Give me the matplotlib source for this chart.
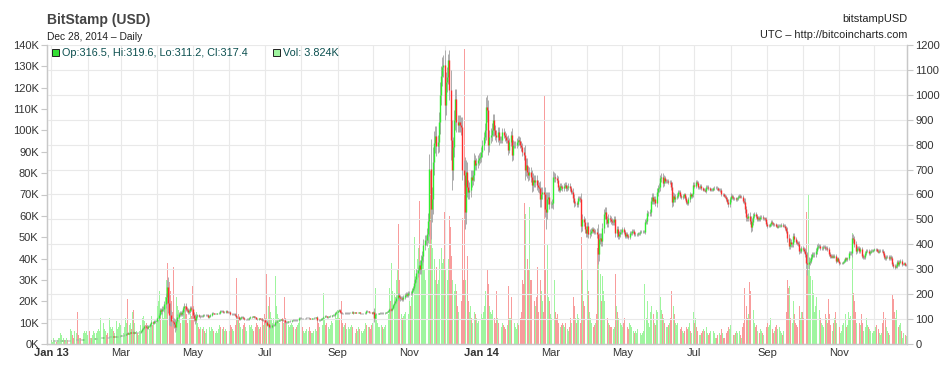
import numpy as np
import pandas as pd
import matplotlib
matplotlib.use('Agg')
import matplotlib.pyplot as plt
from matplotlib.patches import Rectangle

# Bitstamp BTC/USD daily closes, one line per month
close_2013 = [
    13.3, 13.3, 13.4, 13.5, 13.4, 13.4, 13.6, 13.8, 14.0, 14.3, 14.3, 14.2, 14.3, 14.5, 14.3, 14.6, 15.8, 16.0, 15.7, 15.6, 16.8, 17.5, 17.2, 17.0, 17.4, 17.3, 17.6, 18.3, 19.4, 19.7, 20.4,
    20.5, 19.6, 20.6, 20.4, 20.6, 21.5, 22.2, 22.6, 23.6, 24.2, 24.5, 25.2, 24.6, 26.9, 27.2, 27.2, 26.8, 26.6, 29.4, 29.8, 29.8, 30.3, 29.6, 29.8, 30.4, 31.0, 31.0, 33.4,
    34.5, 34.3, 34.5, 36.2, 40.3, 44.0, 42.0, 44.0, 46.9, 46.0, 48.4, 44.2, 47.0, 47.0, 46.9, 47.0, 47.4, 51.3, 59.0, 64.0, 70.9, 69.9, 64.6, 71.5, 73.6, 78.4, 88.9, 86.2, 90.5, 92.2, 93.0,
    104, 117, 135, 132, 142, 142, 162, 188, 230, 165, 118, 117, 91, 90, 82, 68, 93, 110, 119, 126, 119, 127, 143, 154, 141, 137, 128, 134, 144, 139,
    116, 105, 97, 112, 115, 112, 111, 113, 112, 117, 115, 115, 117, 110, 114, 117, 123, 123, 122, 122, 122, 123, 126, 133, 131, 133, 128, 129, 132, 128, 128,
    129, 122, 121, 121, 121, 118, 108, 108, 100, 105, 108, 108, 103, 99, 99, 100, 101, 106, 108, 110, 111, 108, 107, 102, 101, 103, 102, 101, 96, 97,
    88, 89, 78, 80, 68, 70, 75, 76, 76, 88, 88, 94, 97, 98, 99, 97, 97, 90, 88, 89, 91, 91, 92, 95, 96, 95, 96, 95, 98, 104, 106,
    104, 103, 103, 104, 105, 106, 106, 104, 102, 103, 104, 105, 106, 107, 98, 97, 98, 101, 103, 110, 112, 111, 108, 110, 111, 112, 115, 117, 116, 124, 128,
    134, 136, 127, 124, 123, 123, 126, 124, 124, 124, 125, 126, 128, 125, 125, 128, 126, 126, 127, 124, 124, 124, 124, 125, 133, 131, 131, 128, 127, 124,
    128, 105, 120, 122, 122, 123, 124, 125, 124, 125, 126, 127, 130, 133, 140, 138, 145, 155, 165, 172, 183, 195, 188, 184, 186, 182, 188, 195, 201, 198, 204,
    206, 205, 215, 226, 245, 262, 284, 295, 318, 300, 336, 355, 396, 417, 417, 442, 492, 703, 540, 582, 730, 805, 834, 795, 810, 892, 1000, 1075, 1110, 1120,
    960, 1050, 1070, 1140, 1020, 820, 700, 790, 900, 985, 890, 880, 890, 880, 870, 700, 680, 530, 690, 630, 610, 620, 670, 660, 680, 740, 720, 725, 740, 745, 750,
]
close_2014 = [
    770, 800, 830, 860, 950, 940, 800, 830, 840, 860, 900, 860, 840, 830, 850, 820, 820, 820, 850, 840, 830, 820, 820, 780, 810, 840, 760, 800, 800, 800, 810,
    820, 815, 800, 790, 770, 760, 700, 720, 690, 680, 690, 670, 640, 660, 650, 660, 640, 630, 625, 580, 600, 610, 600, 540, 530, 580, 590, 560,
    560, 565, 670, 670, 665, 660, 630, 620, 635, 630, 625, 635, 640, 625, 630, 635, 625, 610, 610, 585, 565, 565, 560, 585, 585, 580, 475, 500, 490, 460, 445,
    475, 440, 445, 455, 460, 455, 450, 450, 440, 360, 420, 425, 415, 465, 520, 530, 500, 485, 505, 500, 495, 490, 490, 500, 445, 460, 435, 440, 450, 450,
    460, 450, 435, 440, 435, 430, 445, 445, 455, 455, 440, 440, 440, 445, 445, 450, 450, 450, 450, 490, 495, 525, 525, 530, 575, 590, 575, 580, 565, 610, 625,
    630, 665, 670, 645, 665, 655, 655, 655, 650, 650, 630, 570, 595, 580, 590, 595, 610, 610, 595, 590, 595, 600, 585, 570, 565, 580, 600, 595, 600, 640,
    635, 650, 645, 630, 630, 635, 625, 620, 620, 615, 630, 632, 625, 620, 620, 620, 625, 628, 628, 625, 620, 620, 618, 600, 600, 595, 590, 580, 570, 560, 580,
    595, 590, 585, 585, 580, 585, 590, 595, 590, 590, 575, 570, 540, 510, 505, 515, 495, 470, 490, 515, 520, 515, 500, 505, 500, 510, 510, 505, 505, 500, 480,
    475, 475, 480, 490, 485, 480, 480, 475, 470, 475, 475, 475, 478, 475, 475, 465, 455, 425, 395, 410, 400, 400, 435, 420, 410, 405, 400, 375, 375, 385,
    380, 375, 360, 325, 320, 330, 335, 350, 360, 360, 360, 375, 390, 395, 395, 385, 385, 390, 390, 385, 385, 380, 360, 355, 350, 355, 350, 355, 335, 345, 335,
    325, 325, 325, 330, 335, 345, 340, 345, 365, 365, 365, 425, 420, 400, 375, 385, 385, 375, 380, 355, 350, 350, 365, 375, 375, 365, 370, 375, 375, 378,
    380, 380, 375, 370, 375, 375, 375, 365, 350, 345, 350, 350, 345, 350, 345, 320, 315, 310, 315, 330, 320, 330, 335, 320, 320, 325, 316.5, 317.4,
]
first_open = 13.2
last_high = 319.6
last_low = 311.2

# high/low reach beyond the candle body, USD
wick_2013 = [
    1, 1, 1, 1, 1, 1, 1, 1, 1, 1, 1, 1, 1, 1, 1, 1, 1, 1, 1, 1, 1, 1, 1, 1, 1, 1, 1, 1, 1, 1, 1,
    1, 1, 1, 1, 1, 1, 1, 1, 1, 1, 1, 1, 1, 1, 1, 1, 1, 1, 1, 1, 1, 1, 1, 1, 1, 1, 1, 1,
    1, 1, 1, 2, 2, 3, 3, 2, 2, 2, 3, 4, 2, 2, 2, 2, 2, 3, 4, 4, 4, 4, 5, 4, 4, 4, 5, 5, 5, 5, 5,
    6, 8, 10, 10, 10, 10, 12, 16, 25, 40, 40, 45, 20, 18, 16, 18, 12, 10, 10, 8, 8, 8, 10, 10, 10, 8, 8, 8, 8, 8,
    10, 12, 15, 8, 6, 5, 5, 4, 4, 4, 4, 4, 4, 5, 4, 4, 4, 4, 3, 3, 3, 3, 3, 4, 4, 4, 4, 3, 3, 3, 3,
    3, 4, 3, 3, 3, 4, 5, 4, 5, 4, 3, 3, 4, 4, 3, 3, 3, 3, 3, 3, 3, 3, 3, 3, 3, 3, 3, 3, 4, 4,
    5, 5, 6, 5, 6, 5, 4, 4, 4, 5, 4, 4, 3, 3, 3, 3, 3, 4, 4, 3, 3, 3, 3, 3, 3, 3, 3, 3, 3, 3, 3,
    2, 2, 2, 2, 2, 2, 2, 2, 2, 2, 2, 2, 2, 2, 4, 3, 3, 3, 3, 3, 3, 3, 3, 3, 3, 3, 3, 3, 3, 3, 3,
    3, 3, 4, 3, 3, 3, 3, 3, 3, 3, 2, 2, 3, 3, 2, 2, 2, 2, 2, 2, 2, 2, 2, 2, 3, 3, 2, 2, 2, 2,
    3, 15, 6, 4, 3, 3, 3, 3, 3, 3, 3, 3, 3, 3, 5, 5, 5, 6, 6, 6, 8, 8, 10, 10, 8, 8, 8, 8, 8, 8, 8,
    8, 8, 8, 8, 10, 12, 15, 15, 15, 20, 20, 20, 25, 20, 20, 25, 35, 60, 120, 50, 60, 50, 40, 40, 30, 40, 50, 40, 40, 40,
    60, 40, 40, 25, 40, 80, 80, 40, 40, 40, 40, 30, 30, 30, 30, 40, 40, 70, 50, 40, 30, 30, 30, 30, 20, 25, 20, 20, 20, 20, 20,
]
wick_2014 = [
    20, 20, 20, 25, 40, 50, 40, 30, 25, 25, 25, 25, 20, 20, 20, 20, 15, 15, 15, 15, 15, 15, 15, 20, 15, 15, 25, 20, 15, 15, 15,
    15, 15, 15, 15, 15, 20, 40, 25, 25, 25, 20, 20, 30, 25, 20, 20, 20, 20, 20, 30, 30, 20, 20, 30, 70, 30, 20, 20,
    15, 15, 25, 20, 15, 15, 15, 10, 10, 10, 10, 10, 10, 10, 10, 10, 10, 10, 10, 15, 15, 10, 10, 10, 10, 10, 25, 20, 15, 15, 15,
    15, 15, 15, 12, 10, 10, 10, 10, 15, 40, 25, 20, 20, 20, 20, 20, 20, 15, 15, 12, 12, 12, 12, 12, 15, 15, 15, 12, 10, 10,
    10, 10, 8, 8, 8, 8, 8, 8, 8, 8, 8, 8, 6, 6, 6, 6, 6, 6, 6, 10, 10, 12, 10, 10, 15, 15, 15, 12, 12, 15, 15,
    15, 15, 15, 15, 12, 10, 8, 8, 8, 8, 10, 20, 15, 12, 10, 10, 10, 8, 8, 8, 8, 8, 8, 10, 8, 8, 10, 8, 8, 10,
    10, 10, 8, 8, 6, 6, 6, 6, 6, 6, 8, 6, 6, 6, 6, 6, 6, 6, 6, 6, 6, 6, 6, 8, 6, 6, 6, 8, 8, 10, 10,
    10, 8, 6, 6, 6, 6, 6, 6, 6, 6, 8, 10, 15, 15, 12, 12, 15, 20, 15, 12, 10, 10, 8, 8, 8, 8, 8, 6, 6, 6, 8,
    8, 6, 6, 8, 6, 6, 6, 6, 6, 6, 6, 6, 6, 6, 6, 8, 10, 15, 15, 15, 10, 10, 12, 10, 8, 8, 8, 12, 10, 8,
    8, 8, 10, 20, 45, 20, 12, 10, 10, 10, 10, 10, 12, 10, 8, 8, 8, 6, 6, 6, 8, 8, 8, 8, 6, 6, 6, 6, 8, 6, 6,
    6, 5, 5, 5, 6, 6, 6, 6, 8, 8, 8, 15, 15, 12, 12, 8, 8, 8, 8, 8, 8, 8, 8, 8, 6, 6, 6, 6, 5, 5,
    5, 5, 5, 5, 5, 5, 5, 6, 8, 6, 6, 6, 6, 6, 6, 8, 8, 8, 6, 8, 6, 6, 6, 6, 4, 4, 4, 4,
]

# daily volume, thousand BTC
vol_2013 = [
    2, 1, 3, 2, 1, 2, 3, 3, 5, 4, 3, 2, 2, 3, 2, 4, 7, 6, 4, 3, 6, 5, 15, 4, 3, 3, 4, 5, 6, 5, 6,
    4, 6, 3, 3, 4, 6, 5, 5, 6, 7, 6, 12, 5, 10, 7, 6, 4, 5, 12, 8, 7, 8, 6, 5, 11, 7, 8, 10,
    9, 6, 5, 8, 12, 10, 21, 9, 10, 7, 15, 16, 10, 6, 5, 4, 6, 9, 12, 13, 11, 9, 10, 9, 7, 8, 13, 9, 10, 12, 10,
    18, 20, 25, 15, 14, 12, 16, 22, 30, 38, 29, 25, 20, 15, 36, 28, 22, 18, 16, 14, 10, 12, 15, 16, 18, 14, 10, 12, 14, 13,
    27, 18, 20, 15, 10, 8, 7, 8, 7, 8, 6, 5, 7, 9, 8, 6, 8, 7, 6, 5, 6, 5, 7, 9, 8, 7, 8, 6, 7, 6, 5,
    6, 9, 8, 7, 6, 9, 31, 12, 14, 10, 8, 7, 9, 10, 8, 6, 7, 9, 8, 9, 7, 6, 8, 10, 9, 8, 7, 8, 12, 9,
    14, 12, 33, 18, 22, 15, 12, 10, 12, 32, 18, 14, 12, 10, 9, 12, 10, 22, 12, 10, 9, 8, 9, 10, 9, 8, 7, 8, 9, 10, 12,
    10, 8, 6, 5, 6, 7, 6, 8, 6, 5, 5, 6, 7, 6, 12, 10, 8, 7, 9, 24, 12, 9, 10, 8, 7, 9, 11, 10, 8, 14, 12,
    16, 14, 12, 20, 10, 8, 9, 10, 7, 8, 7, 8, 9, 8, 6, 5, 7, 6, 8, 7, 6, 5, 6, 7, 10, 9, 8, 8, 7, 9,
    10, 61, 26, 14, 10, 8, 8, 9, 8, 7, 8, 9, 12, 14, 26, 20, 38, 25, 24, 22, 30, 35, 56, 30, 14, 12, 13, 14, 15, 16, 14,
    20, 18, 22, 25, 50, 30, 35, 40, 45, 67, 40, 38, 42, 35, 30, 32, 45, 60, 81, 55, 45, 40, 30, 36, 28, 30, 40, 45, 38, 40,
    62, 35, 30, 40, 60, 55, 41, 30, 25, 28, 25, 18, 15, 12, 20, 59, 30, 138, 30, 41, 20, 15, 18, 12, 10, 15, 14, 12, 10, 11, 12,
]
vol_2014 = [
    14, 12, 15, 18, 25, 35, 28, 18, 15, 14, 16, 12, 10, 25, 12, 10, 9, 8, 10, 9, 8, 7, 9, 27, 12, 12, 22, 14, 10, 8, 7,
    10, 9, 12, 15, 30, 28, 66, 61, 40, 35, 64, 30, 30, 25, 20, 18, 22, 36, 15, 30, 25, 20, 15, 116, 35, 47, 22, 20,
    14, 12, 61, 30, 15, 12, 14, 10, 8, 9, 10, 9, 8, 10, 7, 6, 8, 12, 10, 22, 18, 12, 10, 14, 12, 10, 50, 35, 20, 18, 34,
    30, 25, 15, 12, 10, 8, 9, 10, 14, 45, 40, 33, 20, 32, 25, 20, 18, 12, 10, 9, 8, 8, 7, 8, 33, 18, 15, 12, 10, 9,
    8, 10, 12, 9, 8, 7, 10, 9, 8, 6, 5, 6, 5, 7, 6, 5, 4, 5, 6, 28, 12, 20, 10, 8, 15, 18, 14, 10, 9, 16, 15,
    24, 22, 16, 14, 12, 10, 8, 8, 9, 10, 12, 25, 18, 14, 10, 9, 10, 8, 7, 8, 6, 5, 6, 8, 7, 8, 10, 6, 5, 15,
    10, 12, 8, 6, 4, 4, 5, 6, 7, 6, 8, 5, 4, 5, 6, 5, 6, 5, 3, 3, 4, 5, 4, 7, 5, 3, 3, 5, 6, 8, 7,
    9, 5, 4, 4, 5, 6, 5, 6, 4, 3, 8, 10, 26, 18, 12, 14, 29, 25, 15, 16, 10, 8, 9, 6, 5, 7, 6, 5, 4, 6, 8,
    10, 8, 9, 12, 7, 5, 6, 8, 9, 7, 8, 6, 5, 4, 6, 10, 15, 30, 26, 27, 12, 10, 20, 14, 10, 9, 8, 18, 12, 15,
    15, 12, 20, 62, 35, 70, 35, 32, 30, 24, 15, 18, 22, 20, 16, 12, 10, 9, 8, 14, 12, 10, 21, 14, 9, 6, 10, 12, 15, 10, 12,
    8, 5, 6, 9, 10, 14, 8, 9, 15, 12, 13, 52, 24, 20, 15, 10, 12, 10, 9, 14, 10, 6, 8, 12, 9, 8, 7, 6, 5, 6,
    6, 8, 9, 7, 5, 4, 5, 10, 15, 12, 8, 6, 5, 4, 7, 23, 21, 15, 12, 16, 8, 9, 10, 6, 3, 5, 4, 3.824,
]

dates = pd.date_range('2013-01-01', '2014-12-28', freq='D')
close = np.array(close_2013 + close_2014, dtype=float)
wick = np.array(wick_2013 + wick_2014, dtype=float)
vol = np.array(vol_2013 + vol_2014, dtype=float)
opens = np.concatenate([[first_open], close[:-1]])
up = close >= opens
high = np.maximum(opens, close) + wick
low = np.minimum(opens, close) - wick
high[-1] = last_high
low[-1] = last_low

GREEN = '#2ef02e'
RED = '#ff2b2b'
VGREEN = '#9ff59f'
VRED = '#f89c9c'
GRID = '#e9e9e9'
AXIS = '#c8c8c8'
TXT = '#333333'
plt.rcParams['font.family'] = ['Liberation Sans', 'DejaVu Sans']

W, H = 950, 371
fig = plt.figure(figsize=(W / 100, H / 100), dpi=100)
ax = fig.add_axes([47 / W, 27 / H, 860 / W, 299 / H])
axp = ax.twinx()

# volume underneath
ax.bar(dates, vol, width=0.8, color=np.where(up, VGREEN, VRED), linewidth=0, zorder=2)
ax.set_ylim(0, 140)
ax.set_yticks(range(0, 141, 10))
ax.set_yticklabels([f'{v}K' for v in range(0, 141, 10)])

# candles on top
axp.vlines(dates, low, high, color='#acacac', linewidth=0.7, zorder=3)
axp.vlines(dates, opens, close, colors=np.where(up, GREEN, RED), linewidth=1.0, zorder=4)
axp.set_ylim(0, 1200)
axp.set_yticks(range(0, 1201, 100))
axp.grid(axis='y', color=GRID, linewidth=0.8, zorder=0)
axp.set_axisbelow(True)

# x axis: month grid, labels every second month
ax.set_xlim(dates[0] - pd.Timedelta(days=3.7), dates[0] + pd.Timedelta(days=726.6))
months = pd.date_range('2013-01-01', '2014-12-01', freq='MS')
ax.set_xticks(months, minor=True)
major = months[::2]
ax.set_xticks(major)
ax.set_xticklabels([m.strftime('%b %y') if m.month == 1 else m.strftime('%b') for m in major])
for t in ax.get_xticklabels():
    if t.get_text().startswith('Jan'):
        t.set_fontweight('bold')
ax.grid(axis='x', which='both', color=GRID, linewidth=0.8, zorder=0)
ax.set_axisbelow(True)

ax.tick_params(axis='x', which='both', length=0, pad=3, labelsize=8, labelcolor=TXT)
ax.tick_params(axis='y', length=4, width=0.8, color=AXIS, pad=2, labelsize=8, labelcolor=TXT)
axp.tick_params(axis='y', length=4, width=0.8, color=AXIS, pad=2, labelsize=8, labelcolor=TXT)

for a in (ax, axp):
    a.spines['top'].set_visible(False)
    for s in ('left', 'right', 'bottom'):
        a.spines[s].set_color(AXIS)
        a.spines[s].set_linewidth(0.9)

# header texts
def fx(px):
    return px / W

def fy(py):
    return 1 - py / H

fig.text(fx(47), fy(20), 'BitStamp (USD)', fontsize=10, fontweight='bold', color='#444444', va='center')
fig.text(fx(47), fy(37), dates[-1].strftime('%b %d, %Y') + ' \u2013 Daily', fontsize=7.4, color='#222222', va='center')
fig.text(fx(907), fy(18.5), 'bitstampUSD', fontsize=7.9, color='#222222', va='center', ha='right')
fig.text(fx(907), fy(35), 'UTC \u2013 http://bitcoincharts.com', fontsize=7.8, color='#222222', va='center', ha='right')

fig.patches.append(Rectangle((fx(52), fy(56)), 7 / W, 7 / H, transform=fig.transFigure,
                             facecolor='#33dd33', edgecolor='#222222', linewidth=0.7))
fig.text(fx(61.5), fy(52.5), f'Op:{opens[-1]}, Hi:{high[-1]}, Lo:{low[-1]}, Cl:{close[-1]}',
         fontsize=7.8, color='#0b4f4f', va='center')
fig.patches.append(Rectangle((fx(273), fy(56)), 7 / W, 7 / H, transform=fig.transFigure,
                             facecolor=VGREEN, edgecolor='#222222', linewidth=0.7))
fig.text(fx(283), fy(52.5), f'Vol: {vol[-1]:.3f}K', fontsize=7.8, color='#0b4f4f', va='center')

fig.savefig('out.png', dpi=100)
